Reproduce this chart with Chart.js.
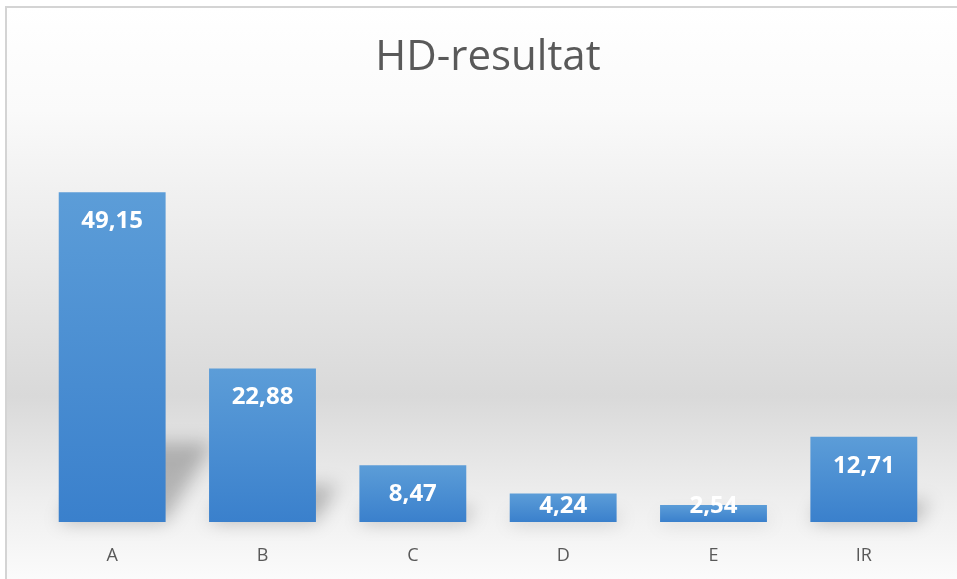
<!DOCTYPE html>
<html>
<head>
<meta charset="utf-8">
<script src="https://cdn.jsdelivr.net/npm/chart.js@4"></script>
<style>
  html, body { margin: 0; padding: 0; background: #ffffff; }
  #box { width: 957px; height: 579px; position: relative; }
</style>
</head>
<body>
<div id="box"><canvas id="hd"></canvas></div>
<script>
// data
var categories = ["A", "B", "C", "D", "E", "IR"];
var values = [49.15, 22.88, 8.47, 4.24, 2.54, 12.71];

// background gradient + frame lines
var bgPlugin = {
  id: 'bg',
  beforeDraw: function(chart) {
    var c = chart.ctx;
    var g = c.createLinearGradient(0, 7, 0, 579);
    g.addColorStop(0, '#ffffff');
    g.addColorStop(0.18, '#fafafa');
    g.addColorStop(0.68, '#d9d9d9');
    g.addColorStop(0.86, '#eeeeee');
    g.addColorStop(1, '#fbfbfb');
    c.save();
    c.fillStyle = g;
    c.fillRect(6, 7, chart.width - 6, chart.height - 7);
    c.strokeStyle = '#d4d4d4';
    c.lineWidth = 2;
    c.beginPath();
    c.moveTo(6, chart.height);
    c.lineTo(6, 7);
    c.lineTo(chart.width, 7);
    c.stroke();
    c.restore();
  }
};

// perspective shadow behind each bar
var shadowPlugin = {
  id: 'shadows',
  beforeDatasetsDraw: function(chart) {
    var c = chart.ctx;
    var bars = chart.getDatasetMeta(0).data;
    c.save();
    c.filter = 'blur(9px)';
    c.fillStyle = 'rgba(0,0,0,0.24)';
    bars.forEach(function(b) {
      var h = b.base - b.y;
      var sh = h * 0.24;
      var shift = sh * 0.6;
      var l = b.x - b.width / 2, r = b.x + b.width / 2;
      c.beginPath();
      c.moveTo(l, b.base);
      c.lineTo(r, b.base);
      c.lineTo(r + shift, b.base - sh);
      c.lineTo(l + shift, b.base - sh);
      c.closePath();
      c.fill();
    });
    c.restore();
  }
};

// value labels inside the top of each bar
var labelPlugin = {
  id: 'vals',
  afterDatasetsDraw: function(chart) {
    var c = chart.ctx;
    var bars = chart.getDatasetMeta(0).data;
    c.save();
    c.font = 'bold 24px "Open Sans"';
    c.fillStyle = '#ffffff';
    c.textAlign = 'center';
    c.textBaseline = 'middle';
    bars.forEach(function(b, i) {
      var y = Math.min(b.y + 29, b.base - 16);
      c.fillText(values[i].toFixed(2).replace('.', ','), b.x, y);
    });
    c.restore();
  }
};

function barFill(context) {
  var chart = context.chart;
  if (!chart.chartArea || context.parsed === undefined) return '#4a8fd3';
  var yS = chart.scales.y;
  var top = yS.getPixelForValue(context.parsed.y);
  var bot = yS.getPixelForValue(0);
  if (!isFinite(top) || bot - top < 1) return '#4a8fd3';
  var g = chart.ctx.createLinearGradient(0, top, 0, bot);
  g.addColorStop(0, '#5c9dd8');
  g.addColorStop(1, '#3a80cc');
  return g;
}

new Chart(document.getElementById('hd'), {
  type: 'bar',
  data: {
    labels: categories,
    datasets: [{
      data: values,
      backgroundColor: barFill,
      borderWidth: 0,
      categoryPercentage: 1,
      barPercentage: 0.711
    }]
  },
  options: {
    responsive: true,
    maintainAspectRatio: false,
    animation: false,
    layout: { padding: { left: 37, right: 18, top: 10, bottom: 12 } },
    plugins: {
      legend: { display: false },
      tooltip: { enabled: false },
      title: {
        display: true,
        text: 'HD-resultat',
        color: '#595959',
        font: { family: '"Open Sans"', size: 42, weight: 'normal' },
        padding: { top: 23, bottom: 36 }
      }
    },
    scales: {
      x: {
        grid: { display: false, drawTicks: false, tickLength: 0 },
        border: { display: false },
        ticks: {
          color: '#595959',
          font: { family: '"Open Sans"', size: 18 },
          padding: 23
        },
        afterFit: function(s) { s.height = 45; }
      },
      y: {
        display: false,
        min: 0,
        max: 60
      }
    }
  },
  plugins: [bgPlugin, shadowPlugin, labelPlugin]
});
</script>
</body>
</html>
